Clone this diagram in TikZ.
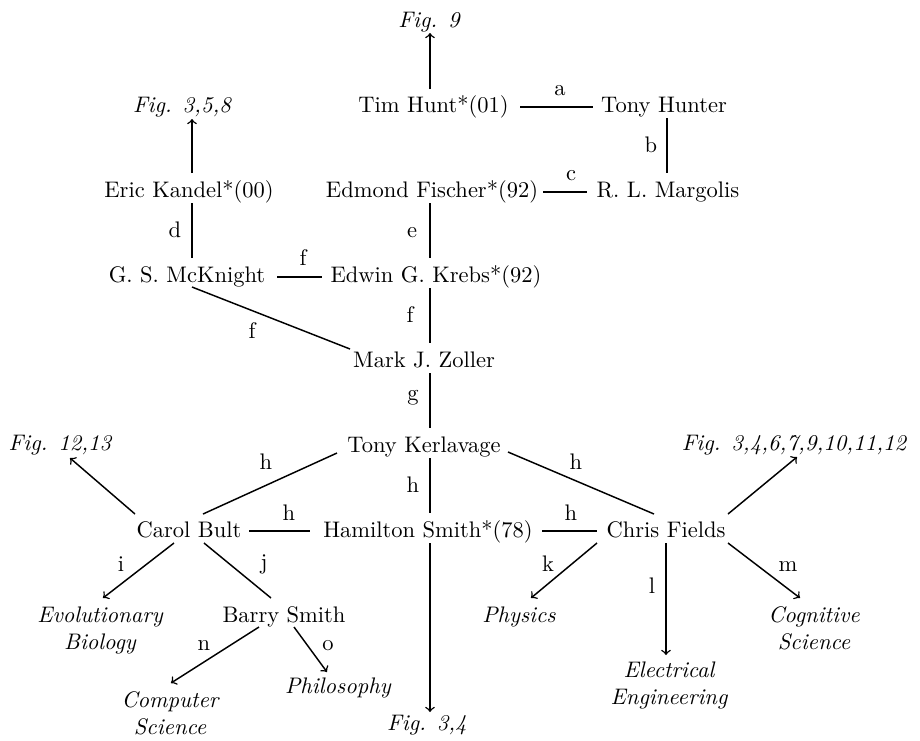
\documentclass[tikz,border=0pt]{standalone}
\usetikzlibrary{calc}
\begin{document}
\begin{tikzpicture}[x=0.4444pt,y=-0.4444pt,
  person/.style={inner sep=0pt, anchor=base},
  field/.style={inner sep=0pt, anchor=base, font=\itshape, align=center},
  lbl/.style={inner sep=0pt, anchor=base},
  link/.style={line width=0.65pt},
  arr/.style={line width=0.65pt, ->}]
\useasboundingbox (0,0) rectangle (920,740);

% people
\node[person] (tim)       at (433.5,112) {Tim Hunt*(01)};
\node[person] (hunter)    at (664,112)   {Tony Hunter};
\node[person] (kandel)    at (189,197)   {Eric Kandel*(00)};
\node[person] (fischer)   at (432,197)   {Edmond Fischer*(92)};
\node[person] (margolis)  at (668,197)   {R. L. Margolis};
\node[person] (mcknight)  at (187,282)   {G. S. McKnight};
\node[person] (krebs)     at (436,282)   {Edwin G. Krebs*(92)};
\node[person] (zoller)    at (424,367)   {Mark J. Zoller};
\node[person] (kerlavage) at (424,452)   {Tony Kerlavage};
\node[person] (bult)      at (189,537)   {Carol Bult};
\node[person] (hsmith)    at (428,537)   {Hamilton Smith*(78)};
\node[person] (fields)    at (666,537)   {Chris Fields};
\node[person] (barry)     at (284,622)   {Barry Smith};

% figure references and fields (two-line nodes sit on their last baseline)
\node[field] (fig9)    at (429,27)  {Fig. 9};
\node[field] (fig358)  at (182,112) {Fig. 3,5,8};
\node[field] (fig1213) at (60,450)  {Fig. 12,13};
\node[field] (figmany) at (794,450) {Fig. 3,4,6,7,9,10,11,12};
\node[field] (fig34)   at (427,730) {Fig. 3,4};
\node[field] (evo)     at (100,649) {Evolutionary\\Biology};
\node[field] (physics) at (519,622) {Physics};
\node[field] (cog)     at (814,649) {Cognitive\\Science};
\node[field] (elec)    at (669,704) {Electrical\\Engineering};
\node[field] (phil)    at (338,693) {Philosophy};
\node[field] (cs)      at (170,734) {Computer\\Science};

% links between people
\draw[link] ($(tim.base)+(86.5,-5)$) -- ($(hunter.base)+(-71,-5)$);
\draw[link] ($(hunter.base)+(3,6)$) -- ($(margolis.base)+(-1,-24)$);
\draw[link] ($(fischer.base)+(111,-5)$) -- ($(margolis.base)+(-81,-5)$);
\draw[link] ($(kandel.base)+(3,6)$) -- ($(mcknight.base)+(5,-24)$);
\draw[link] ($(fischer.base)+(-2,6)$) -- ($(krebs.base)+(-6,-24)$);
\draw[link] ($(mcknight.base)+(90,-5)$) -- ($(krebs.base)+(-114,-5)$);
\draw[link] ($(krebs.base)+(-6,6)$) -- ($(zoller.base)+(6,-24)$);
\draw[link] ($(mcknight.base)+(5,5)$) -- ($(zoller.base)+(-74,-18)$);
\draw[link] ($(zoller.base)+(6,6)$) -- ($(kerlavage.base)+(6,-24)$);
\draw[link] ($(kerlavage.base)+(-87,1)$) -- ($(bult.base)+(14,-23)$);
\draw[link] ($(kerlavage.base)+(6,6)$) -- ($(hsmith.base)+(2,-24)$);
\draw[link] ($(bult.base)+(60,-6)$) -- ($(hsmith.base)+(-118,-6)$);
\draw[link] ($(kerlavage.base)+(84,0)$) -- ($(fields.base)+(-12,-23)$);
\draw[link] ($(hsmith.base)+(114,-6)$) -- ($(fields.base)+(-69,-6)$);
\draw[link] ($(bult.base)+(15,6)$) -- ($(barry.base)+(-13,-24)$);

% arrows to figures and fields
\draw[arr] ($(tim.base)+(-3.5,-23)$) -- ($(fig9.base)+(1,6)$);
\draw[arr] ($(kandel.base)+(3,-24)$) -- ($(fig358.base)+(10,7)$);
\draw[arr] ($(bult.base)+(-54,-23)$) -- ($(fig1213.base)+(10,8)$);
\draw[arr] ($(hsmith.base)+(2,6)$) -- ($(fig34.base)+(3,-18)$);
\draw[arr] ($(bult.base)+(-15,6)$) -- ($(evo.base)+(3,-51)$);
\draw[arr] ($(barry.base)+(-25,5)$) -- ($(cs.base)+(1,-51)$);
\draw[arr] ($(barry.base)+(10,5)$) -- ($(phil.base)+(-11,-21)$);
\draw[arr] ($(fields.base)+(62,-23)$) -- ($(figmany.base)+(3,7)$);
\draw[arr] ($(fields.base)+(-69,6)$) -- ($(physics.base)+(12,-24)$);
\draw[arr] ($(fields.base)+(0,6)$) -- ($(elec.base)+(-3,-49)$);
\draw[arr] ($(fields.base)+(62,6)$) -- ($(cog.base)+(-14,-51)$);

% link labels
\node[lbl] (la)  at (560,95)  {a};
\node[lbl] (lb)  at (651,152) {b};
\node[lbl] (lc)  at (571,180) {c};
\node[lbl] (ld)  at (175,237) {d};
\node[lbl] (le)  at (412,237) {e};
\node[lbl] (lf1) at (303,265) {f};
\node[lbl] (lf2) at (410,322) {f};
\node[lbl] (lf3) at (252,338) {f};
\node[lbl] (lg)  at (413,400) {g};
\node[lbl] (lh1) at (266,469) {h};
\node[lbl] (lh2) at (413,492) {h};
\node[lbl] (lh3) at (289,520) {h};
\node[lbl] (lh4) at (576,469) {h};
\node[lbl] (lh5) at (571,520) {h};
\node[lbl] (li)  at (121,571) {i};
\node[lbl] (lj)  at (264,569) {j};
\node[lbl] (lk)  at (548,571) {k};
\node[lbl] (ll)  at (652,593) {l};
\node[lbl] (lm)  at (788,571) {m};
\node[lbl] (ln)  at (204,650) {n};
\node[lbl] (lo)  at (328,650) {o};
\end{tikzpicture}
\end{document}
